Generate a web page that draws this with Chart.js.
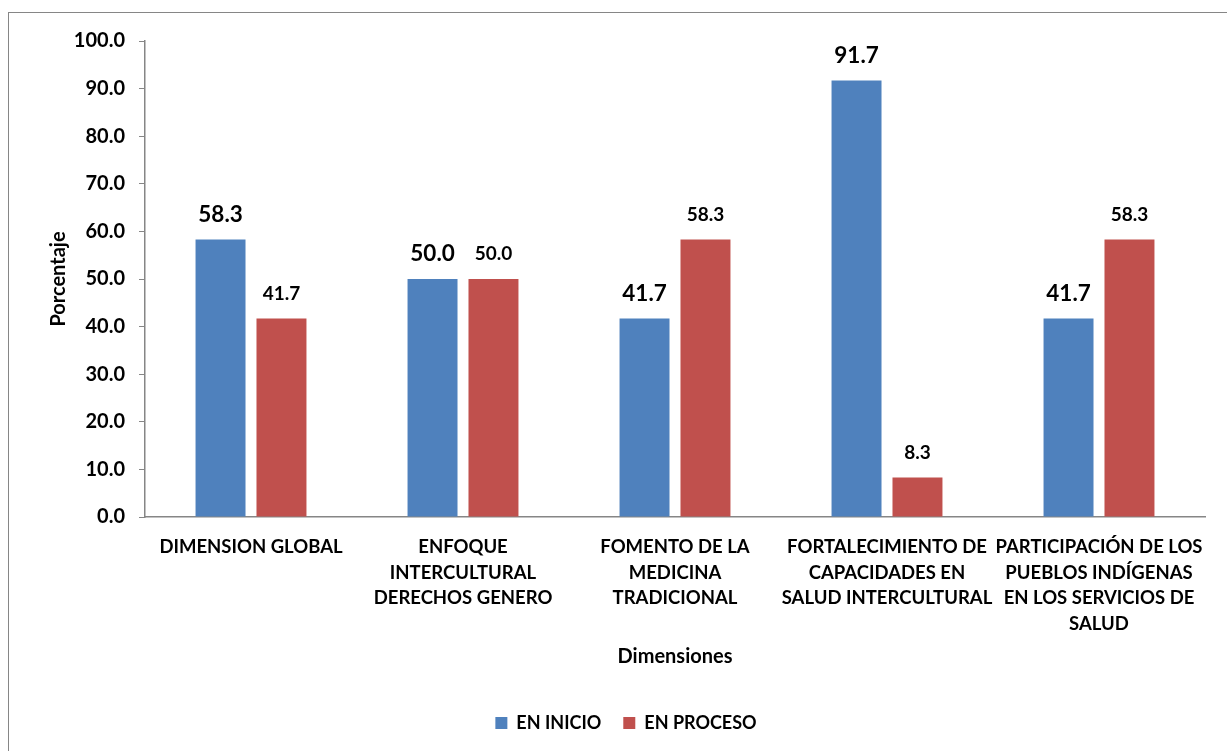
<!DOCTYPE html>
<html lang="es">
<head>
  <meta charset="UTF-8" />
  <title>Dimensiones - Porcentaje</title>
  <script src="https://cdn.jsdelivr.net/npm/chart.js"></script>
  <style>
    body { margin: 0; background: #fff; font-family: Lato, sans-serif; }
    .frame { position: absolute; left: 8px; top: 12px; width: 1400px; height: 900px; border: 1px solid #868686; }
    .wrap { position: absolute; left: 0; top: 0; width: 1227px; height: 751px; }
  </style>
</head>
<body>
  <div class="frame"></div>
  <div class="wrap"><canvas id="barChart" width="1227" height="751"></canvas></div>

  <script>
    // datos
    const categorias = [
      ['DIMENSION GLOBAL'],
      ['ENFOQUE', 'INTERCULTURAL', 'DERECHOS GENERO'],
      ['FOMENTO DE LA', 'MEDICINA', 'TRADICIONAL'],
      ['FORTALECIMIENTO DE', 'CAPACIDADES EN', 'SALUD INTERCULTURAL'],
      ['PARTICIPACIÓN DE LOS', 'PUEBLOS INDÍGENAS', 'EN LOS SERVICIOS DE', 'SALUD']
    ];
    const enInicio = [58.3, 50.0, 41.7, 91.7, 41.7];
    const enProceso = [41.7, 50.0, 58.3, 8.3, 58.3];
    const labelSizes = [22.5, 19];

    // etiquetas de valor encima de las barras
    const valueLabels = {
      id: 'valueLabels',
      afterDatasetsDraw(chart) {
        const ctx = chart.ctx;
        ctx.save();
        ctx.fillStyle = '#000';
        ctx.textAlign = 'center';
        ctx.textBaseline = 'middle';
        chart.data.datasets.forEach((ds, i) => {
          ctx.font = 'bold ' + labelSizes[i] + 'px Lato, sans-serif';
          chart.getDatasetMeta(i).data.forEach((bar, j) => {
            ctx.fillText(ds.data[j].toFixed(1), bar.x, bar.y - 25);
          });
        });
        ctx.restore();
      }
    };

    new Chart(document.getElementById('barChart'), {
      type: 'bar',
      data: {
        labels: categorias,
        datasets: [
          { label: 'EN INICIO', data: enInicio, backgroundColor: '#4F81BD' },
          { label: 'EN PROCESO', data: enProceso, backgroundColor: '#C0504D' }
        ]
      },
      options: {
        responsive: false,
        animation: false,
        categoryPercentage: 0.575,
        barPercentage: 0.82,
        layout: { padding: { left: 47, top: 41, right: 22, bottom: 9 } },
        plugins: {
          tooltip: { enabled: false },
          legend: {
            position: 'bottom',
            labels: {
              color: '#000',
              font: { family: 'Lato', size: 18, weight: 'bold' },
              boxWidth: 12, boxHeight: 12, padding: 22
            }
          }
        },
        scales: {
          x: {
            afterFit(scale) { scale.height = 175; },
            grid: { display: false },
            border: { display: true, color: '#868686', width: 1.5 },
            ticks: {
              color: '#000', padding: 9, maxRotation: 0, autoSkip: false,
              font: { family: 'Lato', size: 18.5, weight: 'bold', lineHeight: 1.39 }
            },
            title: {
              display: true, text: 'Dimensiones', color: '#000',
              font: { family: 'Lato', size: 20, weight: 'bold' },
              padding: { top: 0, bottom: 23 }
            }
          },
          y: {
            min: 0, max: 100,
            afterFit(scale) { scale.width = 98; },
            grid: { drawOnChartArea: false, drawTicks: true, tickLength: 6, color: '#868686' },
            border: { display: true, color: '#868686', width: 1.5 },
            ticks: {
              stepSize: 10, color: '#000', padding: 14,
              font: { family: 'Lato', size: 20, weight: 'bold' },
              callback: v => v.toFixed(1)
            },
            title: {
              display: true, text: 'Porcentaje', color: '#000',
              font: { family: 'Lato', size: 20, weight: 'bold' },
              padding: 0
            }
          }
        }
      },
      plugins: [valueLabels]
    });
  </script>
</body>
</html>
